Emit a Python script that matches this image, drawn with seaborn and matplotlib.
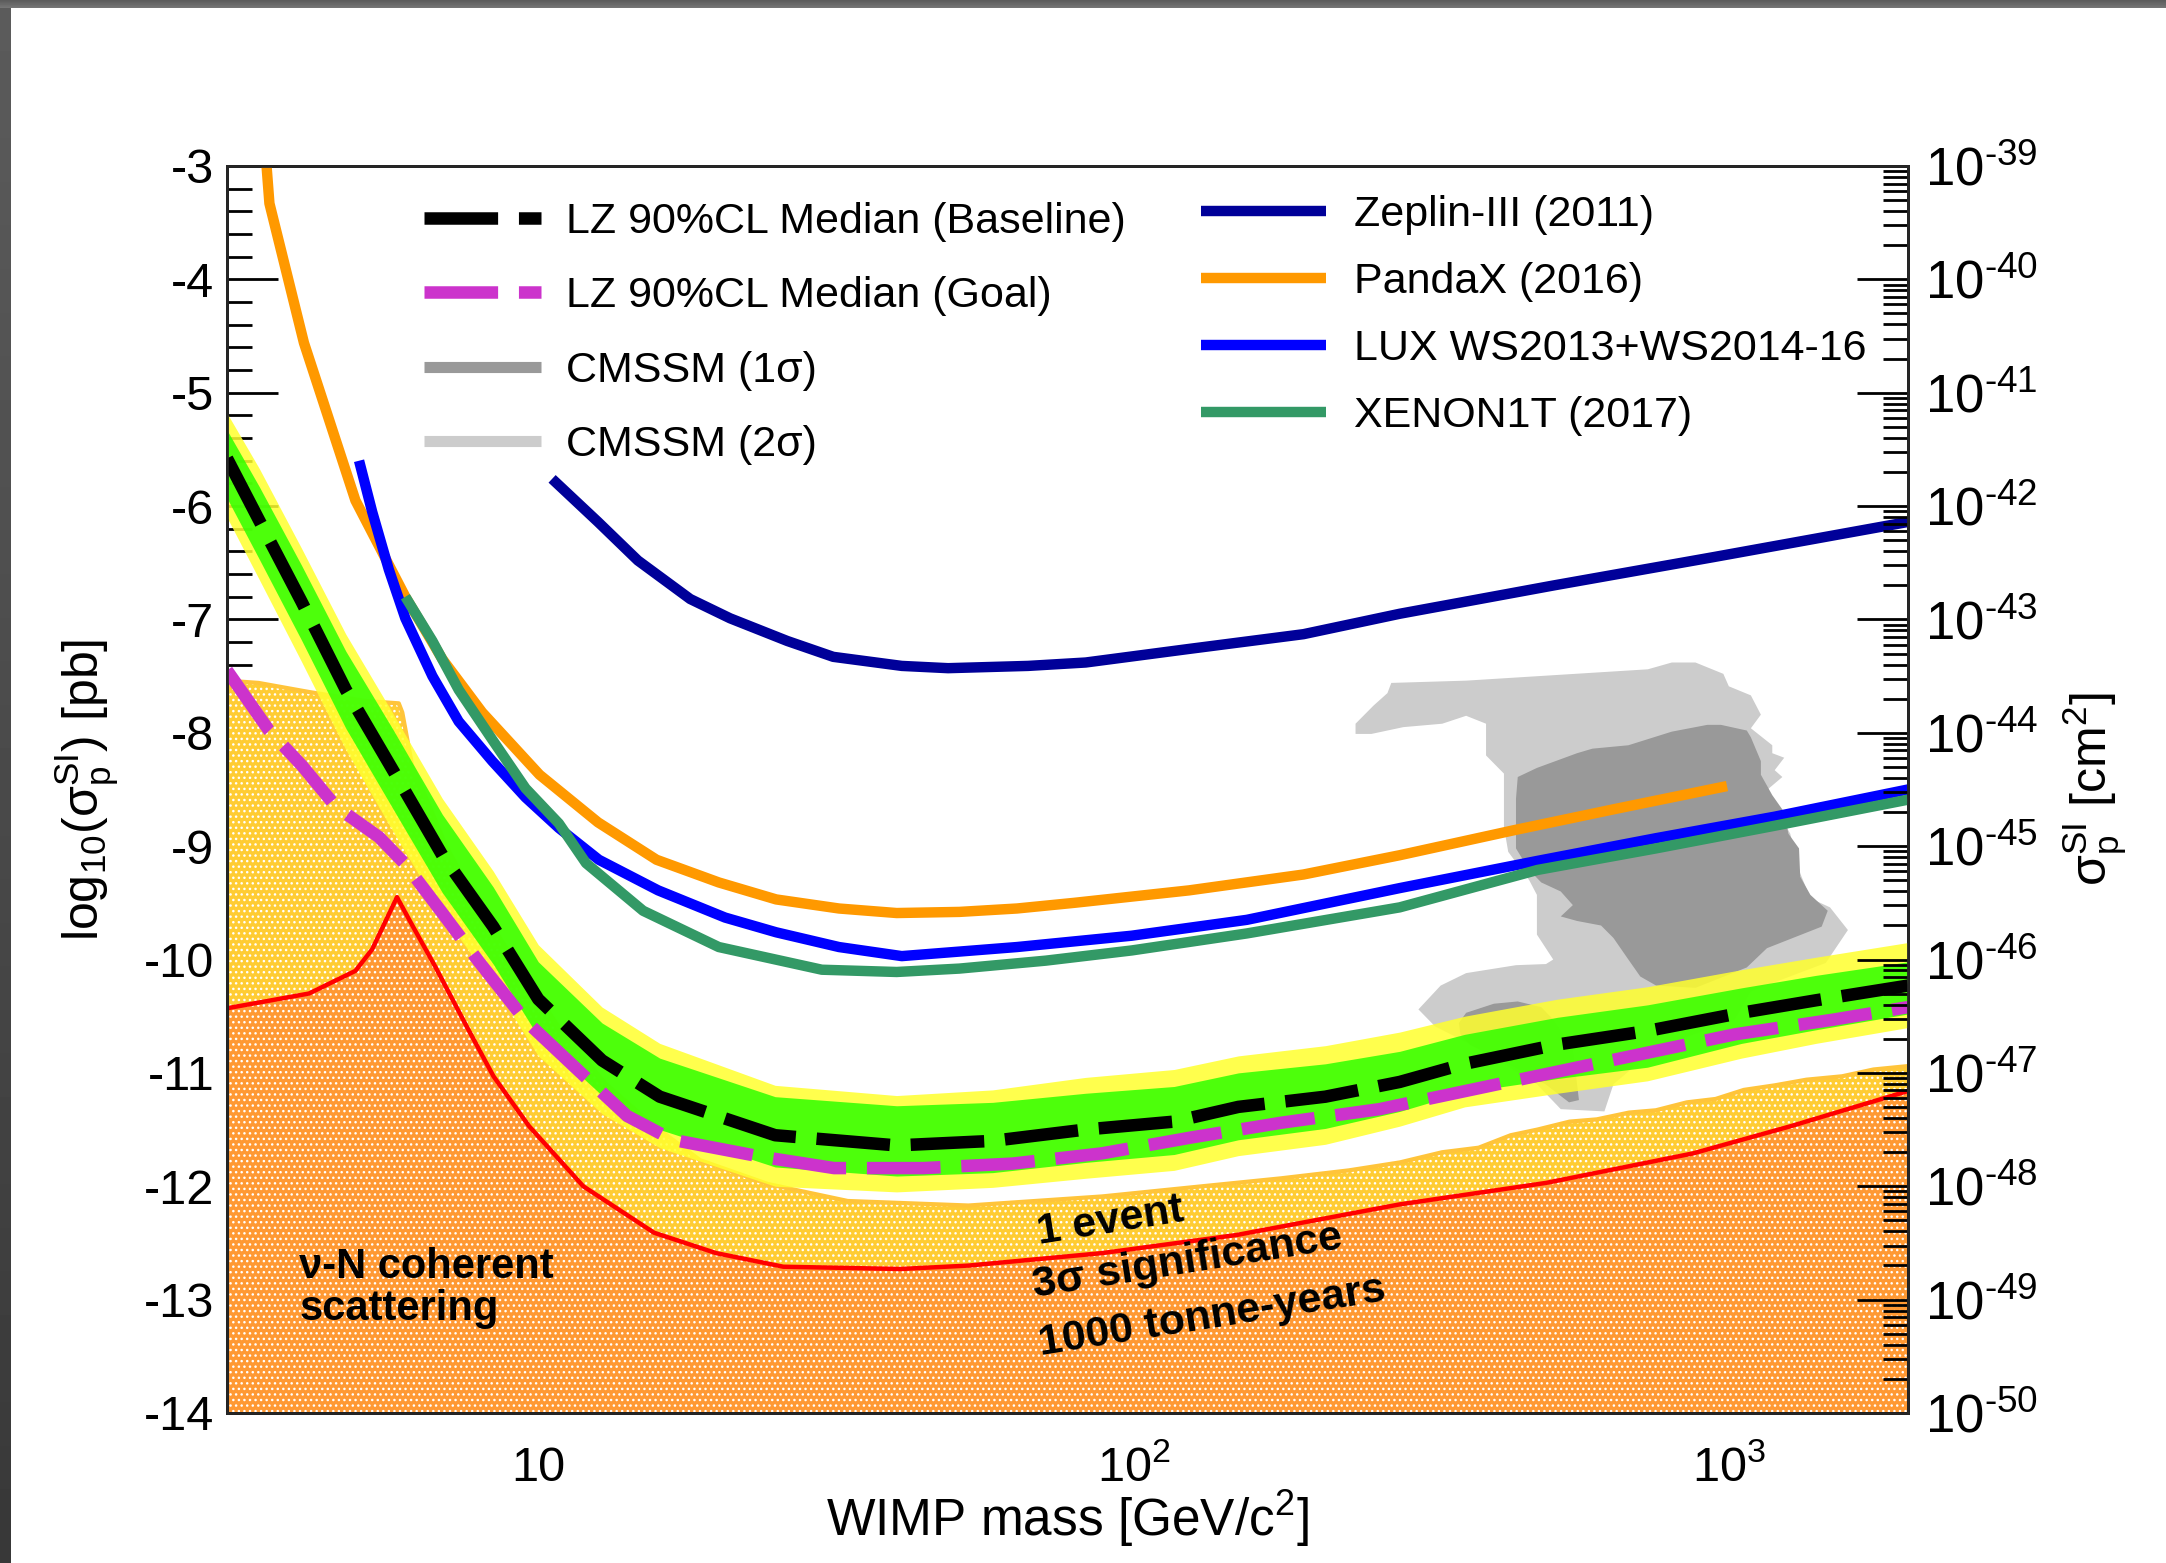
import numpy as np
import matplotlib
matplotlib.use("Agg")
import matplotlib.pyplot as plt
import seaborn as sns
from matplotlib.lines import Line2D
from matplotlib.ticker import FixedLocator, FixedFormatter, LogLocator, NullFormatter, MultipleLocator

# ---------------------------------------------------------------------------
# Spin-independent WIMP-nucleon limits.
# Masses in GeV/c^2, cross sections as log10(sigma_SI / pb).
# ---------------------------------------------------------------------------
zeplin_mass = [10.55, 12.6, 14.7, 18.0, 21.0, 26.2, 31.3, 40.8, 48.8, 66.5, 83.1,
               124, 193, 280, 508, 943, 2000]
zeplin_logxs = [-5.76, -6.14, -6.48, -6.82, -6.99, -7.19, -7.33, -7.41, -7.43, -7.41,
                -7.38, -7.26, -7.13, -6.95, -6.70, -6.45, -6.14]

pandax_mass = [3.49, 3.535, 4.04, 4.93, 5.98, 6.90, 8.05, 10.05, 12.6, 15.8, 20.1, 25.1,
               32.0, 40.0, 51.0, 63.7, 79.5, 124, 193, 280, 435, 647, 993]
pandax_logxs = [-2.95, -3.33, -4.56, -5.95, -6.80, -7.35, -7.82, -8.37, -8.79, -9.12, -9.32,
                -9.47, -9.55, -9.59, -9.58, -9.55, -9.50, -9.39, -9.25, -9.08, -8.86, -8.67,
                -8.47]

lux_mass = [5.0, 5.26, 5.61, 5.98, 6.64, 7.35, 8.37, 9.52, 10.83, 12.64, 15.9, 20.6, 25.1,
            32.0, 40.8, 63.7, 99.3, 155, 280, 477, 754, 1194, 2000]
lux_logxs = [-5.60, -6.05, -6.56, -6.99, -7.50, -7.90, -8.25, -8.57, -8.84, -9.12, -9.39,
             -9.63, -9.76, -9.89, -9.97, -9.89, -9.79, -9.65, -9.37, -9.13, -8.93, -8.74,
             -8.50]

xenon_mass = [5.98, 6.64, 7.35, 8.37, 9.52, 10.83, 12.03, 15.0, 20.1, 29.95, 40.0, 51.0,
              71.2, 99.3, 155, 280, 477, 754, 1194, 2000]
xenon_logxs = [-6.80, -7.19, -7.62, -8.06, -8.49, -8.80, -9.15, -9.57, -9.89, -10.09,
               -10.11, -10.08, -10.01, -9.92, -9.77, -9.54, -9.21, -9.02, -8.82, -8.59]

# LZ projected sensitivity (median) with 1 sigma / 2 sigma bands
lz_mass = [3.0, 3.4, 4.0, 4.75, 5.7, 6.9, 8.4, 10.0, 12.8, 16.0, 25.0, 40.0, 58.0, 83.0,
           117.0, 150.0, 210.0, 280.0, 360.0, 515.0, 730.0, 1050.0, 1400.0, 2000.0]
lz_base = [-5.58, -6.13, -6.84, -7.62, -8.33, -9.08, -9.71, -10.35, -10.89, -11.21, -11.55,
           -11.64, -11.60, -11.50, -11.43, -11.30, -11.21, -11.08, -10.92, -10.75, -10.63,
           -10.47, -10.36, -10.23]
lz_1s_hi = [-5.33, -5.83, -6.52, -7.28, -7.97, -8.72, -9.36, -10.02, -10.56, -10.87, -11.21,
            -11.29, -11.26, -11.18, -11.12, -11.00, -10.92, -10.81, -10.66, -10.51, -10.40,
            -10.25, -10.14, -10.02]
lz_1s_lo = [-5.93, -6.47, -7.18, -7.96, -8.67, -9.41, -10.04, -10.68, -11.20, -11.50, -11.83,
            -11.91, -11.88, -11.79, -11.72, -11.59, -11.49, -11.34, -11.17, -11.05, -10.95,
            -10.74, -10.62, -10.48]
lz_2s_hi = [-5.18, -5.67, -6.37, -7.13, -7.83, -8.58, -9.22, -9.87, -10.42, -10.74, -11.11,
            -11.20, -11.15, -11.04, -10.97, -10.85, -10.76, -10.64, -10.50, -10.35, -10.24,
            -10.09, -9.98, -9.85]
lz_2s_lo = [-6.10, -6.65, -7.37, -8.15, -8.87, -9.60, -10.22, -10.85, -11.36, -11.66, -12.00,
            -12.05, -12.01, -11.93, -11.86, -11.73, -11.63, -11.47, -11.30, -11.18, -11.07,
            -10.87, -10.74, -10.60]

lz_goal_mass = [3.0, 3.53, 4.01, 4.57, 5.40, 5.98, 6.90, 7.95, 9.52, 11.85, 14.1, 16.8, 23.7,
                31.4, 44.4, 62.7, 88.5, 125, 177, 259, 409, 647, 1024, 1500, 2000]
lz_goal = [-7.45, -7.98, -8.29, -8.65, -8.92, -9.16, -9.59, -10.02, -10.54, -11.01, -11.38,
           -11.59, -11.74, -11.84, -11.84, -11.80, -11.71, -11.57, -11.44, -11.32, -11.10,
           -10.88, -10.66, -10.53, -10.42]

# Coherent neutrino scattering floor
nu_mass = [3.0, 3.39, 4.12, 4.93, 5.26, 5.79, 6.16, 6.71, 7.58, 8.41, 9.65, 11.9, 15.65,
           19.9, 25.8, 40.6, 52.8, 88.5, 149, 280, 494, 871, 1271, 2000]
nu_logxs = [-10.43, -10.38, -10.30, -10.10, -9.91, -9.45, -9.71, -10.06, -10.59, -11.03,
            -11.47, -12.00, -12.41, -12.59, -12.71, -12.73, -12.70, -12.59, -12.43, -12.16,
            -11.97, -11.71, -11.47, -11.16]

# 1 event, 3 sigma, 1000 tonne-years discovery contour
disc_mass = [3.0, 3.39, 4.12, 5.13, 5.83, 5.91, 6.14, 6.38, 7.0, 8.0, 9.5, 11.0, 13.0, 15.5,
             18.7, 24.3, 33.1, 52.8, 88.5, 125, 177, 230, 280, 330, 380, 430, 477, 540, 600,
             680, 754, 850, 950, 1060, 1194, 1350, 1550, 1750, 2000]
disc_logxs = [-7.54, -7.56, -7.64, -7.72, -7.74, -7.82, -8.29, -8.49, -9.00, -9.55, -10.15,
              -10.65, -11.10, -11.45, -11.77, -11.98, -12.13, -12.17, -12.09, -12.01, -11.93,
              -11.86, -11.79, -11.70, -11.66, -11.55, -11.50, -11.43, -11.41, -11.35, -11.33,
              -11.26, -11.23, -11.15, -11.11, -11.06, -11.03, -10.97, -10.94]

# CMSSM preferred regions
cmssm2_mass = [236, 236, 251, 284, 330, 362, 391, 391, 419, 419, 426, 462, 476, 476, 507,
               493, 439, 362, 328, 301, 321, 379, 476, 522, 618, 640, 755, 1023, 1089, 1455,
               1585, 1479, 1371, 1318, 1268, 1194, 1132, 1230, 1194, 1239, 1183, 1183, 1089,
               1132, 1089, 1000, 979, 879, 802, 731, 362, 271, 267, 253]
cmssm2_logxs = [-7.92, -8.01, -8.01, -7.95, -7.92, -7.85, -7.92, -8.20, -8.36, -8.83, -9.05,
                -9.30, -9.43, -9.78, -10.00, -10.04, -10.05, -10.12, -10.23, -10.44, -10.59,
                -10.78, -11.10, -11.32, -11.34, -11.10, -10.78, -10.53, -10.28, -10.03, -9.74,
                -9.54, -9.46, -9.24, -8.89, -8.64, -8.55, -8.39, -8.33, -8.22, -8.18, -8.11,
                -7.96, -7.84, -7.67, -7.59, -7.48, -7.38, -7.38, -7.44, -7.54, -7.56, -7.65,
                -7.76]
cmssm1_mass = [442, 439, 439, 462, 484, 522, 547, 522, 556, 610, 640, 678, 710, 755, 879,
               1072, 1159, 1432, 1466, 1371, 1318, 1312, 1259, 1239, 1183, 1132, 1132, 1089,
               1072, 970, 920, 802, 678, 590, 556, 476]
cmssm1_logxs = [-8.39, -8.58, -9.02, -9.21, -9.32, -9.40, -9.52, -9.62, -9.66, -9.70, -9.81,
                -10.00, -10.15, -10.23, -10.25, -10.07, -9.90, -9.71, -9.57, -9.43, -9.27,
                -9.02, -8.89, -8.70, -8.55, -8.37, -8.25, -8.04, -7.98, -7.93, -7.93, -7.99,
                -8.11, -8.14, -8.18, -8.31]
cmssm1_lobe_mass = [352, 362, 403, 442, 484, 507, 547, 560, 539, 492, 422, 367, 354]
cmssm1_lobe_logxs = [-10.56, -10.47, -10.39, -10.37, -10.42, -10.53, -10.78, -11.24, -11.26,
                     -11.10, -10.91, -10.75, -10.66]

# axis ticks
x_major = [10, 100, 1000]
x_major_labels = ["10", r"$\mathregular{10^{2}}$", r"$\mathregular{10^{3}}$"]
y_major = [-14, -13, -12, -11, -10, -9, -8, -7, -6, -5, -4, -3]
y_major_labels = ["-14", "-13", "-12", "-11", "-10", "-9", "-8", "-7", "-6", "-5", "-4", "-3"]
cm2_major = [1e-50, 1e-49, 1e-48, 1e-47, 1e-46, 1e-45, 1e-44, 1e-43, 1e-42, 1e-41, 1e-40, 1e-39]
cm2_exponents = ["50", "49", "48", "47", "46", "45", "44", "43", "42", "41", "40", "39"]
cm2_labels = [r"$\mathregular{10^{\text{-}%s}}$" % e for e in cm2_exponents]

# ---------------------------------------------------------------------------
sns.set_theme(style="white")
plt.rcParams["font.family"] = ["Liberation Sans", "DejaVu Sans"]
plt.rcParams["mathtext.fontset"] = "custom"
plt.rcParams["mathtext.rm"] = "Liberation Sans"
plt.rcParams["mathtext.it"] = "Liberation Sans:italic"
plt.rcParams["mathtext.bf"] = "Liberation Sans:bold"
plt.rcParams["lines.scale_dashes"] = False
plt.rcParams["hatch.linewidth"] = 1.0
plt.rcParams["axes.unicode_minus"] = False
plt.rcParams["lines.solid_capstyle"] = "butt"
plt.rcParams["lines.dash_capstyle"] = "butt"

fig = plt.figure(figsize=(21.66, 15.63), dpi=100)
fig.patch.set_facecolor("white")

# dark frame strips along the top and left edges
top_strip = np.tile(np.linspace(0.36, 0.46, 8)[:, None], (1, 2166))
left_strip = np.tile(np.linspace(0.36, 0.22, 1563)[:, None], (1, 11))
fig.figimage(left_strip, xo=0, yo=0, origin="upper", cmap="gray", vmin=0, vmax=1)
fig.figimage(top_strip, xo=0, yo=1563 - 8, origin="upper", cmap="gray", vmin=0, vmax=1)

ax = fig.add_axes([0.1048, 0.0960, 0.7761, 0.7978])
ax.set_facecolor("white")
ax.set_xscale("log")

# neutrino backgrounds
ax.fill_between(disc_mass, -14, disc_logxs, facecolor="#FFCC33", edgecolor="white",
                linewidth=0, hatch="...", zorder=1)
sns.lineplot(x=disc_mass, y=disc_logxs, ax=ax, color="#FFC43A", linewidth=3,
             estimator=None, sort=False, legend=False, zorder=1.2)
ax.fill_between(nu_mass, -14, nu_logxs, facecolor="#FF9933", edgecolor="white",
                linewidth=0, hatch="...", zorder=1.5)
sns.lineplot(x=nu_mass, y=nu_logxs, ax=ax, color="#FF0000", linewidth=3.2,
             estimator=None, sort=False, legend=False, zorder=1.8)

# CMSSM regions
ax.fill(cmssm2_mass, cmssm2_logxs, facecolor="#CCCCCC", edgecolor="none", zorder=2)
ax.fill(cmssm1_mass, cmssm1_logxs, facecolor="#999999", edgecolor="none", zorder=2.1)
ax.fill(cmssm1_lobe_mass, cmssm1_lobe_logxs, facecolor="#999999", edgecolor="none", zorder=2.1)

# LZ bands
ax.fill_between(lz_mass, lz_2s_lo, lz_2s_hi, facecolor=(1.0, 1.0, 0.18), alpha=0.85,
                linewidth=0, zorder=3)
ax.fill_between(lz_mass, lz_1s_lo, lz_1s_hi, facecolor=(0.18, 1.0, 0.0), alpha=0.85,
                linewidth=0, zorder=3.1)

dash = (0, (53, 15))
sns.lineplot(x=lz_mass, y=lz_base, ax=ax, color="black", linewidth=9, linestyle=dash,
             estimator=None, sort=False, legend=False, zorder=5)
sns.lineplot(x=lz_goal_mass, y=lz_goal, ax=ax, color="#CC33CC", linewidth=9, linestyle=dash,
             estimator=None, sort=False, legend=False, zorder=5)
line_base = ax.lines[-2]
line_goal = ax.lines[-1]

exp_lines = []
for m, v, c in [(zeplin_mass, zeplin_logxs, "#000099"),
                (pandax_mass, pandax_logxs, "#FF9900"),
                (lux_mass, lux_logxs, "#0000FF"),
                (xenon_mass, xenon_logxs, "#339966")]:
    sns.lineplot(x=m, y=v, ax=ax, color=c, linewidth=7.5, estimator=None, sort=False,
                 legend=False, zorder=6)
    exp_lines.append(ax.lines[-1])

ax.set_xlim(3, 2000)
ax.set_ylim(-14, -3)

# axes frame and ticks
for s in ax.spines.values():
    s.set_linewidth(2)
    s.set_color("black")
ax.xaxis.set_major_locator(FixedLocator(x_major))
ax.xaxis.set_major_formatter(FixedFormatter(x_major_labels))
ax.xaxis.set_minor_locator(LogLocator(base=10, subs=[2, 3, 4, 5, 6, 7, 8, 9], numticks=20))
ax.xaxis.set_minor_formatter(NullFormatter())
ax.yaxis.set_major_locator(FixedLocator(y_major))
ax.yaxis.set_major_formatter(FixedFormatter(y_major_labels))
ax.yaxis.set_minor_locator(MultipleLocator(0.2))
ax.tick_params(axis="x", which="major", direction="in", length=25, width=2, labelsize=35,
               pad=49, top=False, bottom=True, colors="black")
ax.tick_params(axis="x", which="minor", direction="in", length=12, width=2, top=False,
               bottom=True, colors="black")
ax.tick_params(axis="y", which="major", direction="in", length=37, width=2, labelsize=35,
               pad=9, left=True, right=False, colors="black")
ax.tick_params(axis="y", which="minor", direction="in", length=18, width=2, left=True,
               right=False, colors="black")
for t in ax.xaxis.get_major_ticks():
    t.label1.set_verticalalignment("baseline")

ax.set_xlabel(r"WIMP mass [GeV/c$^{\mathregular{2}}$]", fontsize=37, color="black")
ax.xaxis.set_label_coords(0.5, -0.0986)
ax.xaxis.label.set_verticalalignment("baseline")
ax.set_ylabel(r"$\mathregular{log_{10}(σ_{p}^{SI})\ [pb]}$", fontsize=36, color="black")
ax.yaxis.set_label_coords(-0.0630, 0.5)

ax2 = ax.twinx()
ax2.set_yscale("log")
ax2.set_ylim(1e-50, 1e-39)
ax2.yaxis.set_major_locator(FixedLocator(cm2_major))
ax2.yaxis.set_major_formatter(FixedFormatter(cm2_labels))
ax2.yaxis.set_minor_locator(LogLocator(base=10, subs=[2, 3, 4, 5, 6, 7, 8, 9], numticks=30))
ax2.yaxis.set_minor_formatter(NullFormatter())
ax2.tick_params(axis="y", which="major", direction="in", length=37, width=2, labelsize=38,
                pad=12, colors="black")
ax2.tick_params(axis="y", which="minor", direction="in", length=18, width=2, colors="black")
for s in ax2.spines.values():
    s.set_linewidth(2)
ax2.set_ylabel(r"$\mathregular{σ_{p}^{SI}\ [cm^{2}]}$", fontsize=36, color="black",
               rotation=90)
ax2.yaxis.set_label_coords(1.0909, 0.5)

# annotations
ax.text(3.97, -12.806, "ν-N coherent", fontsize=30, fontweight="bold", color="black",
        ha="left", va="baseline", zorder=7)
ax.text(3.97, -13.176, "scattering", fontsize=30, fontweight="bold", color="black",
        ha="left", va="baseline", zorder=7)
for xm, yv, s in [(69.5, -12.51, "1 event"),
                  (68.3, -12.98, "3σ significance"),
                  (69.7, -13.49, "1000 tonne-years")]:
    ax.text(xm, yv, s, fontsize=31, fontweight="bold", color="black", rotation=9,
            rotation_mode="anchor", ha="left", va="baseline", zorder=7)

# legends
h_cm1 = Line2D([], [], color="#999999", linewidth=8)
h_cm2 = Line2D([], [], color="#CCCCCC", linewidth=8)
leg1 = ax2.legend([line_base, line_goal, h_cm1, h_cm2],
                  ["LZ 90%CL Median (Baseline)", "LZ 90%CL Median (Goal)",
                   "CMSSM (1σ)", "CMSSM (2σ)"],
                  loc="upper left", bbox_to_anchor=(0.1957, 0.8709),
                  bbox_transform=fig.transFigure, frameon=False, fontsize=31,
                  handlelength=2.73, handletextpad=0.56, labelspacing=0.80,
                  borderpad=0, borderaxespad=0)
ax2.add_artist(leg1)
leg2 = ax2.legend(exp_lines,
                  ["Zeplin-III (2011)", "PandaX (2016)", "LUX WS2013+WS2014-16",
                   "XENON1T (2017)"],
                  loc="upper left", bbox_to_anchor=(0.5545, 0.8753),
                  bbox_transform=fig.transFigure, frameon=False, fontsize=31,
                  handlelength=2.9, handletextpad=0.65, labelspacing=0.63,
                  borderpad=0, borderaxespad=0)
for lg in (leg1, leg2):
    for t in lg.get_texts():
        t.set_color("black")

fig.savefig("out.png", dpi=100)
